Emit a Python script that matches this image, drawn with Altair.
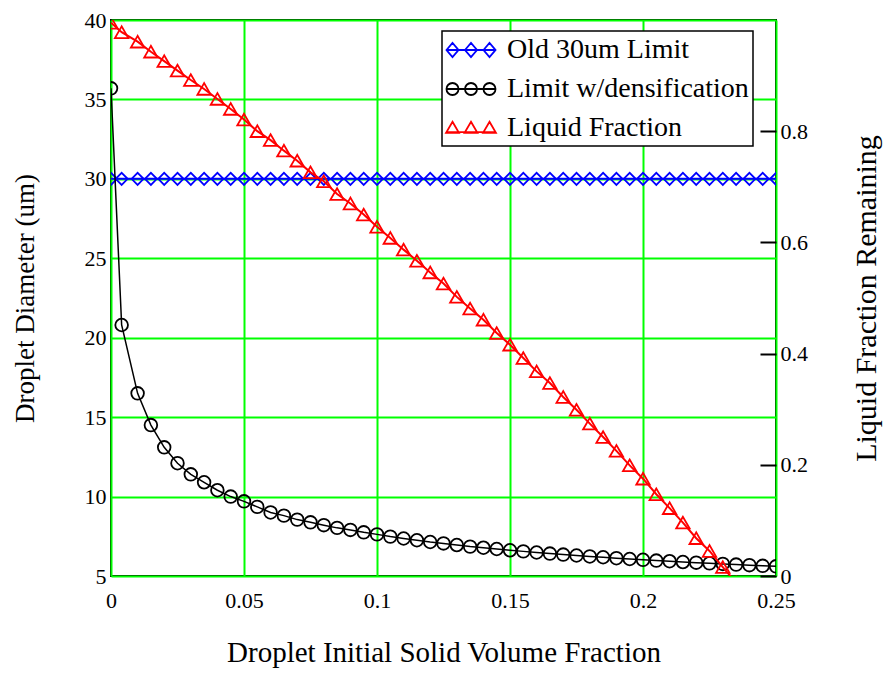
import altair as alt
import pandas as pd

FONT = "'Liberation Serif', 'DejaVu Serif', 'Times New Roman', serif"

x_vals = [0, 0.004, 0.01, 0.015, 0.02, 0.025, 0.03, 0.035, 0.04, 0.045,
          0.05, 0.055, 0.06, 0.065, 0.07, 0.075, 0.08, 0.085, 0.09, 0.095,
          0.1, 0.105, 0.11, 0.115, 0.12, 0.125, 0.13, 0.135, 0.14, 0.145,
          0.15, 0.155, 0.16, 0.165, 0.17, 0.175, 0.18, 0.185, 0.19, 0.195,
          0.2, 0.205, 0.21, 0.215, 0.22, 0.225, 0.23, 0.235, 0.24, 0.245, 0.25]

old_limit = [30, 30, 30, 30, 30, 30, 30, 30, 30, 30,
             30, 30, 30, 30, 30, 30, 30, 30, 30, 30,
             30, 30, 30, 30, 30, 30, 30, 30, 30, 30,
             30, 30, 30, 30, 30, 30, 30, 30, 30, 30,
             30, 30, 30, 30, 30, 30, 30, 30, 30, 30, 30]

dens_limit = [35.7, 20.8, 16.5, 14.5, 13.1, 12.1, 11.4, 10.9, 10.4, 10.0,
              9.7, 9.35, 9.0, 8.8, 8.55, 8.38, 8.2, 8.03, 7.9, 7.75,
              7.62, 7.48, 7.36, 7.25, 7.14, 7.05, 6.95, 6.85, 6.78, 6.7,
              6.62, 6.55, 6.48, 6.41, 6.35, 6.29, 6.23, 6.18, 6.12, 6.07,
              6.02, 5.97, 5.93, 5.88, 5.84, 5.80, 5.76, 5.72, 5.68, 5.64, 5.61]

liquid = [0.995, 0.978, 0.961, 0.943, 0.926, 0.909, 0.892, 0.876, 0.858, 0.840,
          0.821, 0.800, 0.784, 0.765, 0.747, 0.726, 0.710, 0.687, 0.670, 0.650,
          0.628, 0.608, 0.587, 0.567, 0.546, 0.526, 0.502, 0.481, 0.461, 0.437,
          0.416, 0.392, 0.368, 0.347, 0.322, 0.299, 0.274, 0.250, 0.225, 0.199,
          0.175, 0.147, 0.122, 0.096, 0.068, 0.045, 0.016, -0.012, None, None, None]

series_names = ["Old 30um Limit", "Limit w/densification", "Liquid Fraction"]
series_colors = ["#0000FF", "#000000", "#FF0000"]

x_ticks = [0, 0.05, 0.1, 0.15, 0.2, 0.25]
left_ticks = [5, 10, 15, 20, 25, 30, 35, 40]
right_ticks = [0, 0.2, 0.4, 0.6, 0.8]

rows = []
for name, vals in zip(series_names, [old_limit, dens_limit, liquid]):
    for xv, v in zip(x_vals, vals):
        if v is not None:
            rows.append({"x": xv, "value": v, "series": name})
df = pd.DataFrame(rows)

# legend symbols: line with three markers (custom paths, unit box)
CENTERS = (-0.607, 0.714, 2.036)

def diamonds():
    p = "M-1,0L2.5,0"
    for c in CENTERS:
        p += f"M{c-0.43:.3f},0L{c:.3f},-0.5L{c+0.43:.3f},0L{c:.3f},0.5Z"
    return p

def circles():
    p = "M-1,0L2.5,0"
    r = 0.43
    for c in CENTERS:
        p += (f"M{c-r:.3f},0A{r},{r} 0 1,0 {c+r:.3f},0"
              f"A{r},{r} 0 1,0 {c-r:.3f},0")
    return p

def triangles():
    p = "M-1,0.3L2.5,0.3"
    for c in CENTERS:
        p += f"M{c:.3f},-0.45L{c+0.46:.3f},0.35L{c-0.46:.3f},0.35Z"
    return p

legend_shapes = [diamonds(), circles(), triangles()]

x_enc = alt.X(
    "x:Q",
    scale=alt.Scale(domain=[0, 0.25], nice=False, zero=False),
    axis=alt.Axis(values=x_ticks, format="~g", grid=True, gridColor="#00FF00",
                  gridWidth=2, ticks=False, domain=False, labelFlush=False,
                  labelPadding=14, labelFont=FONT, labelFontSize=22,
                  title="Droplet Initial Solid Volume Fraction",
                  titleFont=FONT, titleFontSize=29, titlePadding=27),
)

y_left_axis = alt.Axis(values=left_ticks, grid=True, gridColor="#00FF00",
                       gridWidth=2, ticks=False, domain=False, labelFlush=False,
                       labelPadding=5, labelFont=FONT, labelFontSize=22,
                       title="Droplet Diameter (um)", titleFont=FONT,
                       titleFontSize=27, titlePadding=45)
y_left_scale = alt.Scale(domain=[5, 40], nice=False, zero=False)
y_right_scale = alt.Scale(domain=[0, 1], nice=False, zero=False)
y_right_axis = alt.Axis(orient="right", values=right_ticks, format="~g",
                        grid=False, ticks=True, tickSize=16, tickWidth=2,
                        tickColor="black", offset=-16, domain=False,
                        labelFlush=False, labelPadding=4, labelFont=FONT,
                        labelFontSize=22,
                        title="Liquid Fraction Remaining", titleAngle=270,
                        titleFont=FONT, titleFontSize=30, titlePadding=74)

base = alt.Chart(df)

def series_layers(name, color, shape, size, y_enc_axis, scale, line_w):
    src = base.transform_filter(alt.datum.series == name)
    line = src.mark_line(color=color, strokeWidth=line_w, clip=True).encode(
        x=x_enc, y=alt.Y("value:Q", scale=scale, axis=y_enc_axis))
    pts = src.mark_point(shape=shape, filled=False, color=color, size=size,
                         strokeWidth=1.8, opacity=1, clip=True).encode(
        x=x_enc, y=alt.Y("value:Q", scale=scale, axis=y_enc_axis))
    return [line, pts]

left_layers = (series_layers("Old 30um Limit", "#0000FF", "diamond", 144,
                             y_left_axis, y_left_scale, 2)
               + series_layers("Limit w/densification", "#000000", "circle", 160,
                               y_left_axis, y_left_scale, 1.5))
left = alt.layer(*left_layers)

right_layers = series_layers("Liquid Fraction", "#FF0000", "triangle-up", 180,
                             y_right_axis, y_right_scale, 2)

legend_def = alt.Legend(title=None, orient="none", legendX=331, legendY=11,
                        symbolOpacity=1, symbolSize=784,
                        symbolStrokeWidth=1.8, labelOffset=31,
                        rowPadding=10, padding=4)

legend_layer = base.transform_filter(
    alt.datum.series == "Liquid Fraction"
).mark_point(filled=False, opacity=0, clip=True).encode(
    x=x_enc,
    y=alt.Y("value:Q", scale=y_right_scale, axis=y_right_axis),
    stroke=alt.Stroke("series:N",
                      scale=alt.Scale(domain=series_names, range=series_colors),
                      legend=legend_def),
    shape=alt.Shape("series:N",
                    scale=alt.Scale(domain=series_names, range=legend_shapes),
                    legend=legend_def),
)
right = alt.layer(*right_layers, legend_layer)

chart = alt.layer(left, right).resolve_scale(y="independent").properties(
    width=665, height=556,
    autosize=alt.AutoSizeParams(type="none"),
    padding={"left": 103, "top": 12, "right": 109, "bottom": 93},
).configure_view(
    stroke="black", strokeWidth=2
).configure_axis(
    labelFont=FONT, titleFont=FONT,
    titleFontWeight="normal", labelColor="black", titleColor="black",
).configure_legend(
    labelFont=FONT, labelFontSize=28, labelColor="black",
    strokeColor="black", fillColor="white", cornerRadius=0,
    strokeWidth=1.5, labelLimit=400,
)

chart.save("out.html", embed_options={"renderer": "svg", "actions": False})
